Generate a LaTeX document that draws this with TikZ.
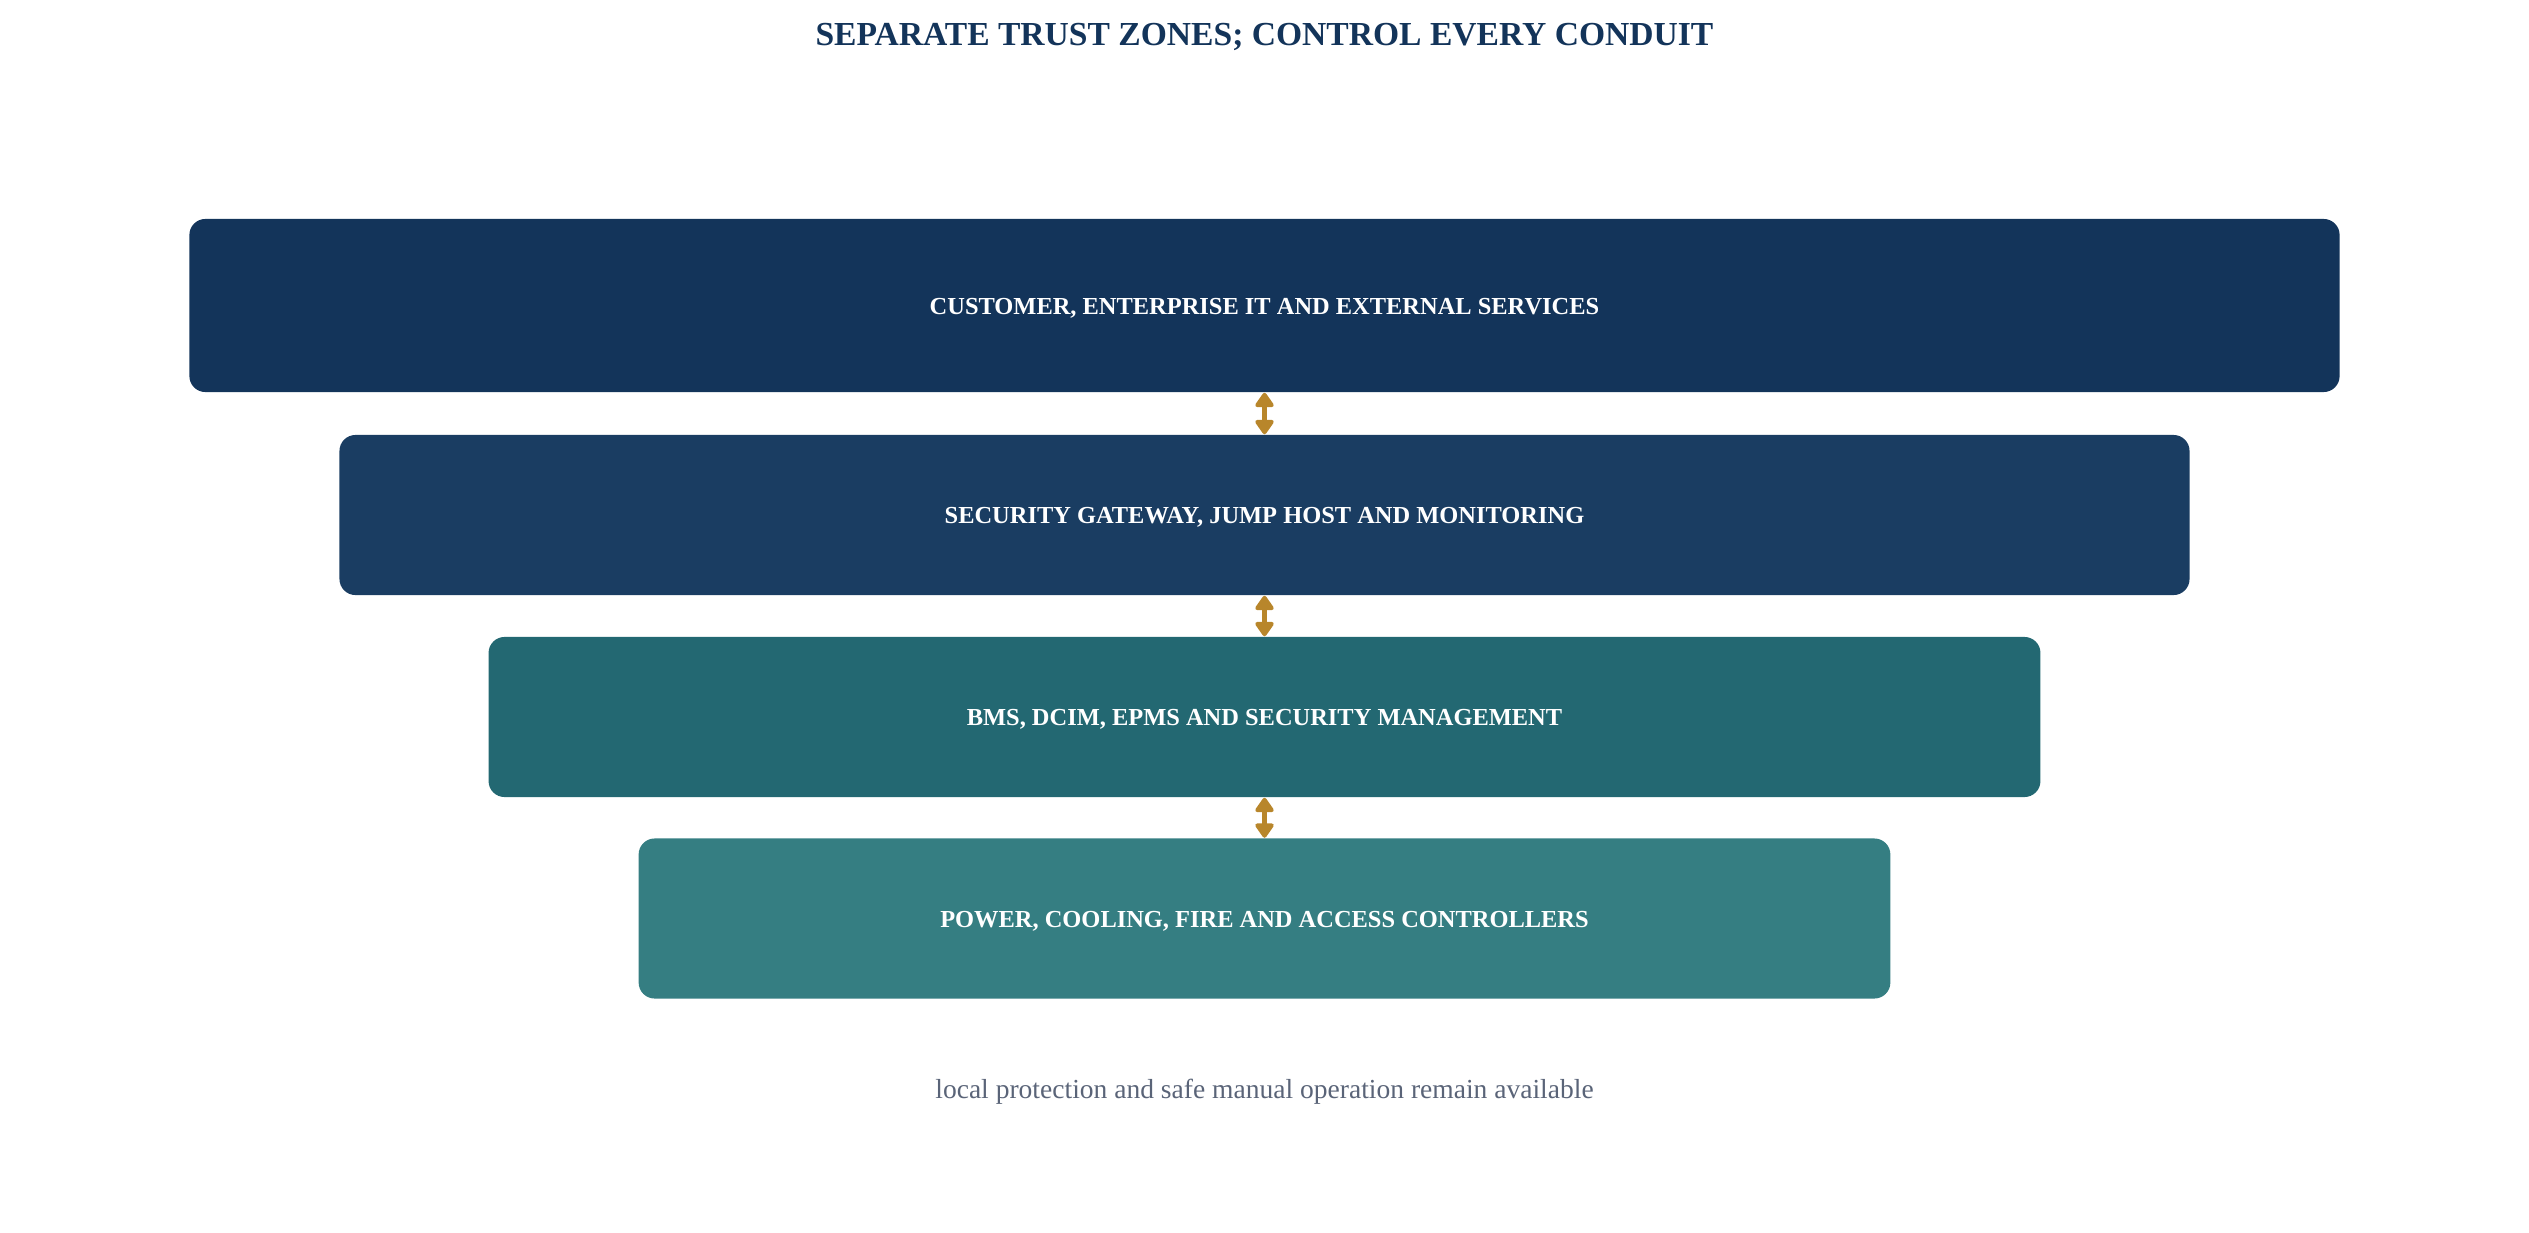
\documentclass[tikz,border=0pt]{standalone}
\usepackage{fontspec}
\setmainfont{Liberation Serif}
\usetikzlibrary{arrows.meta}

\definecolor{navy}{HTML}{13345A}
\definecolor{steel}{HTML}{1A3D62}
\definecolor{teal}{HTML}{236872}
\definecolor{seagreen}{HTML}{357E82}
\definecolor{brass}{HTML}{B8862B}
\definecolor{slate}{HTML}{5A6478}

\tikzset{
  zone/.style={rounded corners=0.16cm, text=white, font=\fontsize{6.95}{8}\selectfont\bfseries,
    minimum height=1.6cm, inner sep=0pt, text height=0.2cm, text depth=0.03cm},
  conduit/.style={{Triangle[length=0.16cm,width=0.21cm,round]}-{Triangle[length=0.16cm,width=0.21cm,round]},
    draw=brass, line width=0.055cm},
}

\begin{document}
\begin{tikzpicture}[x=0.01cm, y=-0.01cm]
    \useasboundingbox (0,0) rectangle (2529,1233);

    \node (title) at (1264.5,37) [text=navy, font=\fontsize{9.55}{11}\selectfont\bfseries]
        {SEPARATE TRUST ZONES; CONTROL EVERY CONDUIT};

    \node (z1) at (1264.5,305.5) [zone, fill=navy, minimum width=21.49cm, minimum height=1.73cm]
        {CUSTOMER, ENTERPRISE IT AND EXTERNAL SERVICES};
    \node (z2) at (1264.5,515) [zone, fill=steel, minimum width=18.49cm]
        {SECURITY GATEWAY, JUMP HOST AND MONITORING};
    \node (z3) at (1264.5,717) [zone, fill=teal, minimum width=15.51cm]
        {BMS, DCIM, EPMS AND SECURITY MANAGEMENT};
    \node (z4) at (1264.5,918.5) [zone, fill=seagreen, minimum width=12.51cm]
        {POWER, COOLING, FIRE AND ACCESS CONTROLLERS};

    \draw [conduit] (z1.south) -- (z2.north);
    \draw [conduit] (z2.south) -- (z3.north);
    \draw [conduit] (z3.south) -- (z4.north);

    \node (note) at (1264.5,1092) [text=slate, font=\fontsize{7.83}{9}\selectfont]
        {local protection and safe manual operation remain available};
\end{tikzpicture}
\end{document}
